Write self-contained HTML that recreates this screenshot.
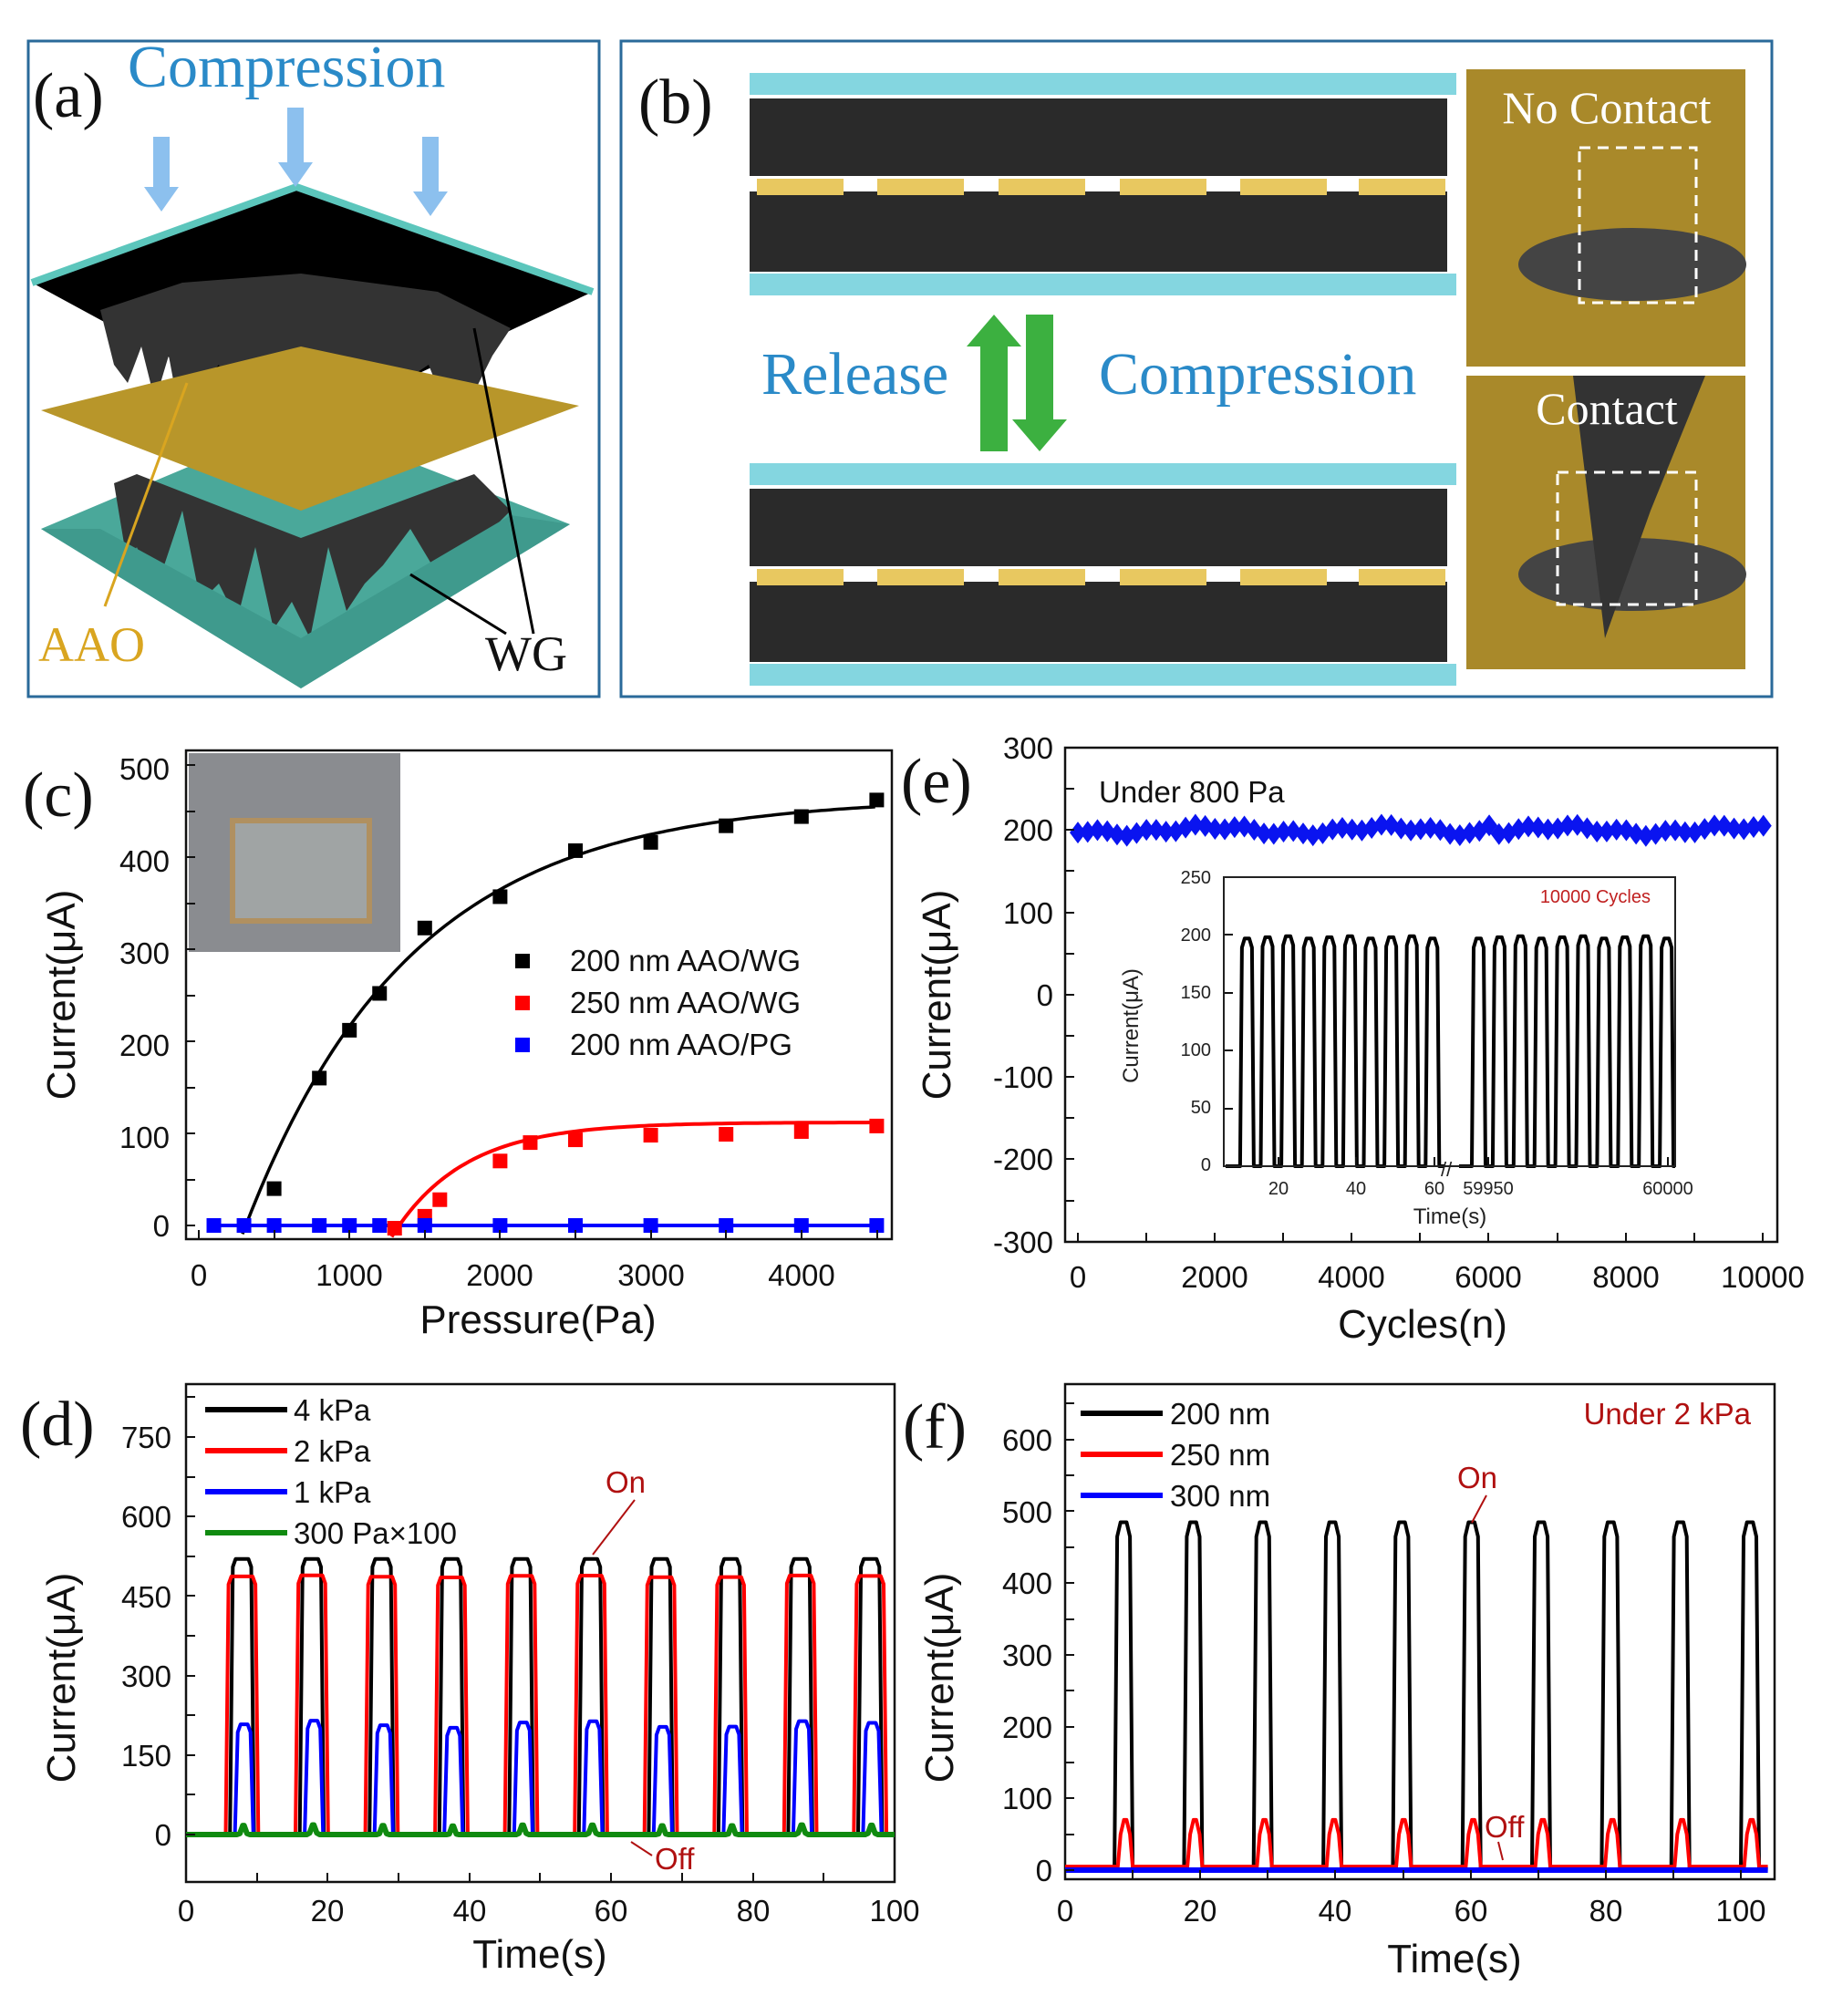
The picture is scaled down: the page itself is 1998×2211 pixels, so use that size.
<!DOCTYPE html>
<html><head><meta charset="utf-8"><style>
html,body{margin:0;padding:0;background:#fff}
svg{display:block}
text{font-family:"Liberation Sans",Arial,sans-serif}
.t{font-size:33px;fill:#111}
.ti{font-size:44px;fill:#111}
.pl{font-family:"Liberation Serif",serif;font-size:70px;fill:#111}
.sf{font-family:"Liberation Serif",serif}
</style></head><body>
<svg id="s" xmlns="http://www.w3.org/2000/svg" width="1998" height="2211" viewBox="0 0 1998 2211">
<!-- panel a -->
<rect x="31" y="45" width="626" height="719" fill="#fff" stroke="#2a6a9a" stroke-width="3"/>
<polygon points="45,580 330,755 625,575 330,460" fill="#4aa89a"/>
<polygon points="35,310 325,205 650,320 330,470" fill="#000"/>
<polyline points="35,310 325,205 650,320" fill="none" stroke="#5cc6bc" stroke-width="8"/>
<polygon points="110,340 125,400 140,420 155,380 170,440 185,390 200,470 220,420 240,400 255,460 270,490 285,440 300,430 320,500 340,480 360,440 380,420 400,480 420,470 440,420 470,400 490,450 520,430 540,390 560,360 480,320 330,300 200,310" fill="#333"/>
<polygon points="45,450 330,560 635,445 330,380" fill="#b8962a"/>
<polygon points="125,530 140,620 150,600 170,650 200,560 220,660 240,640 260,680 280,600 300,690 320,660 340,700 360,600 380,670 400,640 420,620 450,580 480,630 500,610 530,590 560,560 520,520 330,590 150,520" fill="#333"/>
<polygon points="45,580 330,755 625,575 560,565 330,700 110,580" fill="#3f9a8d"/>
<text x="36" y="128" class="pl">(a)</text>
<text x="140" y="95" class="sf" style="font-size:66px;fill:#2a8ac8">Compression</text>
<g fill="#8cc0ee"><polygon points="168,150 186,150 186,205 196,205 177,232 158,205 168,205"/><polygon points="315,118 333,118 333,178 343,178 324,205 305,178 315,178"/><polygon points="463,150 481,150 481,210 491,210 472,237 453,210 463,210"/></g>
<line x1="115" y1="665" x2="205" y2="420" stroke="#d9a520" stroke-width="3"/>
<line x1="585" y1="695" x2="520" y2="360" stroke="#000" stroke-width="3"/>
<line x1="555" y1="695" x2="450" y2="630" stroke="#000" stroke-width="3"/>
<text x="42" y="725" class="sf" style="font-size:54px;fill:#d9a520">AAO</text>
<text x="532" y="735" class="sf" style="font-size:54px;fill:#111">WG</text>
<!-- panel b -->
<rect x="681" y="45" width="1262" height="719" fill="#fff" stroke="#2a6a9a" stroke-width="3"/>
<text x="700" y="135" class="pl">(b)</text>
<g id="layer1">
<rect x="822" y="80" width="775" height="24" fill="#84d6e0"/>
<rect x="822" y="108" width="765" height="85" fill="#2a2a2a"/>
<rect x="822" y="210" width="765" height="88" fill="#2a2a2a"/>
<rect x="822" y="300" width="775" height="24" fill="#84d6e0"/>
<g fill="#e8c860"><rect x="830" y="196" width="95" height="18"/><rect x="962" y="196" width="95" height="18"/><rect x="1095" y="196" width="95" height="18"/><rect x="1228" y="196" width="95" height="18"/><rect x="1360" y="196" width="95" height="18"/><rect x="1490" y="196" width="95" height="18"/></g>
</g>
<use href="#layer1" transform="translate(0,428)"/>
<rect x="1608" y="76" width="306" height="326" fill="#a9892a"/>
<ellipse cx="1790" cy="290" rx="125" ry="40" fill="#444"/>
<rect x="1608" y="412" width="306" height="322" fill="#a9892a"/>
<ellipse cx="1790" cy="630" rx="125" ry="40" fill="#444"/>
<polygon points="1725,412 1870,412 1810,560 1760,700" fill="#333"/>
<text x="1762" y="135" text-anchor="middle" class="sf" style="font-size:50px;fill:#fff">No Contact</text>
<text x="1762" y="465" text-anchor="middle" class="sf" style="font-size:50px;fill:#fff">Contact</text>
<rect x="1732" y="162" width="128" height="170" fill="none" stroke="#fff" stroke-width="3" stroke-dasharray="12,8"/>
<rect x="1708" y="518" width="152" height="145" fill="none" stroke="#fff" stroke-width="3" stroke-dasharray="12,8"/>
<polygon points="1060,380 1090,345 1120,380 1105,380 1105,495 1075,495 1075,380" fill="#3cb040"/>
<polygon points="1125,345 1155,345 1155,460 1170,460 1140,495 1110,460 1125,460" fill="#3cb040"/>
<text x="835" y="432" class="sf" style="font-size:66px;fill:#2a8ac8">Release</text>
<text x="1205" y="432" class="sf" style="font-size:66px;fill:#2a8ac8">Compression</text>
<!-- panel c -->
<text x="25" y="895" class="pl">(c)</text>
<rect x="204" y="823" width="774" height="536" fill="none" stroke="#111" stroke-width="2.5"/>
<rect x="207" y="826" width="232" height="218" fill="#8a8c90"/>
<rect x="255" y="900" width="150" height="110" fill="#a0a4a4" stroke="#b09060" stroke-width="6"/>
<g id="cg"></g>
<g class="t" text-anchor="end"><text x="186" y="855">500</text><text x="186" y="956">400</text><text x="186" y="1057">300</text><text x="186" y="1158">200</text><text x="186" y="1259">100</text><text x="186" y="1356">0</text></g>
<g class="t" text-anchor="middle"><text x="218" y="1410">0</text><text x="383" y="1410">1000</text><text x="548" y="1410">2000</text><text x="714" y="1410">3000</text><text x="879" y="1410">4000</text></g>
<text x="590" y="1462" class="ti" text-anchor="middle">Pressure(Pa)</text>
<text transform="translate(82,1091) rotate(-90)" class="ti" text-anchor="middle">Current(μA)</text>
<g class="t"><rect x="565" y="1046" width="16" height="16" fill="#000"/><text x="625" y="1065">200 nm AAO/WG</text>
<rect x="565" y="1092" width="16" height="16" fill="#f00"/><text x="625" y="1111">250 nm AAO/WG</text>
<rect x="565" y="1138" width="16" height="16" fill="#00f"/><text x="625" y="1157">200 nm AAO/PG</text></g>
<!-- panel e -->
<text x="988" y="880" class="pl">(e)</text>
<rect x="1168" y="820" width="781" height="542" fill="none" stroke="#111" stroke-width="2.5"/>
<g id="eg"></g>
<g class="t" text-anchor="end"><text x="1155" y="832">300</text><text x="1155" y="922">200</text><text x="1155" y="1013">100</text><text x="1155" y="1103">0</text><text x="1155" y="1193">-100</text><text x="1155" y="1283">-200</text><text x="1155" y="1374">-300</text></g>
<g class="t" text-anchor="middle"><text x="1182" y="1412">0</text><text x="1332" y="1412">2000</text><text x="1482" y="1412">4000</text><text x="1632" y="1412">6000</text><text x="1783" y="1412">8000</text><text x="1933" y="1412">10000</text></g>
<text x="1560" y="1467" class="ti" text-anchor="middle">Cycles(n)</text>
<text transform="translate(1042,1091) rotate(-90)" class="ti" text-anchor="middle">Current(μA)</text>
<text x="1205" y="880" class="t">Under 800 Pa</text>
<rect x="1342" y="962" width="495" height="317" fill="none" stroke="#222" stroke-width="2"/>
<g style="font-size:20px;fill:#222" text-anchor="end"><text x="1328" y="969">250</text><text x="1328" y="1032">200</text><text x="1328" y="1095">150</text><text x="1328" y="1158">100</text><text x="1328" y="1221">50</text><text x="1328" y="1284">0</text></g>
<g style="font-size:20px;fill:#222" text-anchor="middle"><text x="1402" y="1310">20</text><text x="1487" y="1310">40</text><text x="1573" y="1310">60</text><text x="1632" y="1310">59950</text><text x="1829" y="1310">60000</text><text x="1590" y="1342" style="font-size:24px">Time(s)</text></g>
<text transform="translate(1248,1125) rotate(-90)" style="font-size:24px;fill:#222" text-anchor="middle">Current(μA)</text>
<text x="1810" y="990" style="font-size:20px;fill:#c02020" text-anchor="end">10000 Cycles</text>
<!-- panel d -->
<text x="22" y="1585" class="pl">(d)</text>
<rect x="204" y="1518" width="777" height="546" fill="none" stroke="#111" stroke-width="2.5"/>
<g id="dg"></g>
<g class="t" text-anchor="end"><text x="188" y="1588">750</text><text x="188" y="1675">600</text><text x="188" y="1763">450</text><text x="188" y="1850">300</text><text x="188" y="1937">150</text><text x="188" y="2024">0</text></g>
<g class="t" text-anchor="middle"><text x="204" y="2107">0</text><text x="359" y="2107">20</text><text x="515" y="2107">40</text><text x="670" y="2107">60</text><text x="826" y="2107">80</text><text x="981" y="2107">100</text></g>
<text x="592" y="2158" class="ti" text-anchor="middle">Time(s)</text>
<text transform="translate(82,1840) rotate(-90)" class="ti" text-anchor="middle">Current(μA)</text>
<g class="t"><line x1="225" y1="1546" x2="315" y2="1546" stroke="#000" stroke-width="6"/><text x="322" y="1558">4 kPa</text>
<line x1="225" y1="1591" x2="315" y2="1591" stroke="#f00" stroke-width="6"/><text x="322" y="1603">2 kPa</text>
<line x1="225" y1="1636" x2="315" y2="1636" stroke="#00f" stroke-width="6"/><text x="322" y="1648">1 kPa</text>
<line x1="225" y1="1681" x2="315" y2="1681" stroke="#108a10" stroke-width="6"/><text x="322" y="1693">300 Pa×100</text></g>
<text x="664" y="1637" class="t" style="fill:#b01010">On</text>
<line x1="696" y1="1645" x2="650" y2="1705" stroke="#b01010" stroke-width="2"/>
<text x="718" y="2050" class="t" style="fill:#b01010">Off</text>
<line x1="715" y1="2035" x2="692" y2="2020" stroke="#b01010" stroke-width="2"/>
<!-- panel f -->
<text x="990" y="1588" class="pl">(f)</text>
<rect x="1168" y="1518" width="778" height="543" fill="none" stroke="#111" stroke-width="2.5"/>
<g id="fg"></g>
<g class="t" text-anchor="end"><text x="1154" y="1591">600</text><text x="1154" y="1670">500</text><text x="1154" y="1748">400</text><text x="1154" y="1827">300</text><text x="1154" y="1906">200</text><text x="1154" y="1984">100</text><text x="1154" y="2063">0</text></g>
<g class="t" text-anchor="middle"><text x="1168" y="2107">0</text><text x="1316" y="2107">20</text><text x="1464" y="2107">40</text><text x="1613" y="2107">60</text><text x="1761" y="2107">80</text><text x="1909" y="2107">100</text></g>
<text x="1595" y="2163" class="ti" text-anchor="middle">Time(s)</text>
<text transform="translate(1045,1840) rotate(-90)" class="ti" text-anchor="middle">Current(μA)</text>
<g class="t"><line x1="1185" y1="1550" x2="1275" y2="1550" stroke="#000" stroke-width="6"/><text x="1283" y="1562">200 nm</text>
<line x1="1185" y1="1595" x2="1275" y2="1595" stroke="#f00" stroke-width="6"/><text x="1283" y="1607">250 nm</text>
<line x1="1185" y1="1640" x2="1275" y2="1640" stroke="#00f" stroke-width="6"/><text x="1283" y="1652">300 nm</text></g>
<text x="1920" y="1562" class="t" text-anchor="end" style="fill:#b01010">Under 2 kPa</text>
<text x="1598" y="1632" class="t" style="fill:#b01010">On</text>
<line x1="1630" y1="1640" x2="1614" y2="1670" stroke="#b01010" stroke-width="2"/>
<text x="1628" y="2015" class="t" style="fill:#b01010">Off</text>
<line x1="1643" y1="2020" x2="1648" y2="2040" stroke="#b01010" stroke-width="2"/>
</svg>
<script>
var NS="http://www.w3.org/2000/svg";
function el(g,tag,a){var e=document.createElementNS(NS,tag);for(var k in a)e.setAttribute(k,a[k]);document.getElementById(g).appendChild(e);return e;}
function pl(g,pts,c,w){el(g,"polyline",{points:pts.map(function(p){return p[0].toFixed(1)+","+p[1].toFixed(1)}).join(" "),fill:"none",stroke:c,"stroke-width":w,"stroke-linejoin":"round"});}
function ticks(g,x0,x1,y0,y1,xs,ys){xs.forEach(function(x){el(g,"line",{x1:x,y1:y1,x2:x,y2:y1-10,stroke:"#111","stroke-width":2})});ys.forEach(function(y){el(g,"line",{x1:x0,y1:y,x2:x0+10,y2:y,stroke:"#111","stroke-width":2})});}
(function(){var X=function(p){return 218+0.1652*p},Y=function(v){return 1344-1.01*v};
var b=[],r=[];for(var p=290;p<=4500;p+=30)b.push([X(p),Y(470*(1-Math.exp(-(p-300)/1100))-5)]);
for(var p=1280;p<=4500;p+=30)r.push([X(p),Y(112*(1-Math.exp(-(p-1330)/480)))]);
pl("cg",b,"#000",3.5);pl("cg",r,"#f00",4);pl("cg",[[X(100),Y(0)],[X(4500),Y(0)]],"#00f",4);
[[500,40],[800,160],[1000,212],[1200,252],[1500,323],[2000,357],[2500,407],[3000,416],[3500,434],[4000,444],[4500,462]].forEach(function(d){el("cg","rect",{x:X(d[0])-8,y:Y(d[1])-8,width:16,height:16,fill:"#000"})});
[[1300,-3],[1500,10],[1600,28],[2000,70],[2200,90],[2500,93],[3000,98],[3500,99],[4000,102],[4500,108]].forEach(function(d){el("cg","rect",{x:X(d[0])-8,y:Y(d[1])-8,width:16,height:16,fill:"#f00"})});
[100,300,500,800,1000,1200,1500,2000,2500,3000,3500,4000,4500].forEach(function(p){el("cg","rect",{x:X(p)-8,y:Y(0)-8,width:16,height:16,fill:"#00f"})});
ticks("cg",204,978,823,1359,[218,301,383,466,548,631,714,796,879,962],[1344,1294,1243,1193,1142,1092,1041,991,940,890,839]);})();
(function(){var X=function(n){return 1182+0.0751*n},Y=function(v){return 1091-0.903*v};
for(var i=0;i<=70;i++){var n=i*143,v=200-4*Math.sin(i*0.35)-3*Math.cos(i*1.3)+(i==42?8:0);var x=X(n),y=Y(v);
el("eg","polygon",{points:(x-9)+","+y+" "+x+","+(y-12)+" "+(x+9)+","+y+" "+x+","+(y+12),fill:"#0a14f0"});}
ticks("eg",1168,1949,820,1362,[1182,1257,1332,1407,1482,1557,1632,1708,1783,1858,1933],[820,865,910,955,1001,1046,1091,1136,1181,1226,1271,1317,1362]);
var p=[],Yi=function(v){return 1279-1.268*v},base=Yi(0);
function seg(x0,x1,n){var dx=(x1-x0)/n;for(var k=0;k<n;k++){var s=x0+k*dx+dx*0.35,h=Yi(197+(k%3));p.push([s,base],[s+2,h+10],[s+5,h],[s+10,h],[s+13,h+10],[s+15,base]);}}
p.push([1344,base]);seg(1352,1578,10);p.push([1584,base]);pl("eg",p,"#000",4);
p=[[1600,base]];seg(1606,1835,10);p.push([1837,base]);pl("eg",p,"#000",4);
el("eg","text",{x:1580,y:1290,"font-size":22,fill:"#222"}).textContent="//";
ticks("eg",1342,1837,962,1279,[1402,1487,1573,1632,1829],[1279,1216,1152,1089,1025,962]);})();
(function(){var X=function(t){return 204+7.77*t},Y=function(v){return 2012-0.5813*v};
function tr(a,b,h,r){var p=[[X(0),Y(0)]];for(var k=0;k<10;k++){var s=a+9.85*k,hh=h+r*Math.sin(k*1.7);p.push([X(s),Y(0)],[X(s+0.4),Y(hh-15)],[X(s+0.8),Y(hh)],[X(b+9.85*k-0.8),Y(hh)],[X(b+9.85*k-0.4),Y(hh-15)],[X(b+9.85*k),Y(0)]);}p.push([X(100),Y(0)]);return p;}
pl("dg",tr(6.2,9.6,520,0),"#000",4);pl("dg",tr(5.6,10.2,487,2),"#f00",4);pl("dg",tr(6.9,9.5,208,7),"#00f",4);pl("dg",tr(7.2,9.0,17,1),"#108a10",6);
ticks("dg",204,981,1518,2064,[204,282,359,437,515,592,670,748,826,903,981],[2012,1968,1925,1881,1838,1794,1750,1707,1663,1620,1576,1532]);})();
(function(){var X=function(t){return 1168+7.41*t},Y=function(v){return 2051-0.7867*v};
function tr(a,b,h,base){var p=[[X(0),Y(base)]];for(var k=0;k<10;k++){var s=a+10.3*k;p.push([X(s),Y(base)],[X(s+0.4),Y(h-20)],[X(s+0.9),Y(h)],[X(b+10.3*k-0.9),Y(h)],[X(b+10.3*k-0.4),Y(h-20)],[X(b+10.3*k),Y(base)]);}p.push([X(104),Y(base)]);return p;}
pl("fg",tr(7.3,10,485,2),"#000",4);pl("fg",tr(7.8,10,70,5),"#f00",4);pl("fg",[[X(0),Y(0)],[X(104),Y(0)]],"#00f",6);
ticks("fg",1168,1946,1518,2061,[1168,1242,1316,1390,1464,1539,1613,1687,1761,1835,1909],[2051,2012,1972,1933,1894,1854,1815,1776,1736,1697,1657,1618,1579,1539]);})();
</script>
</body></html>
